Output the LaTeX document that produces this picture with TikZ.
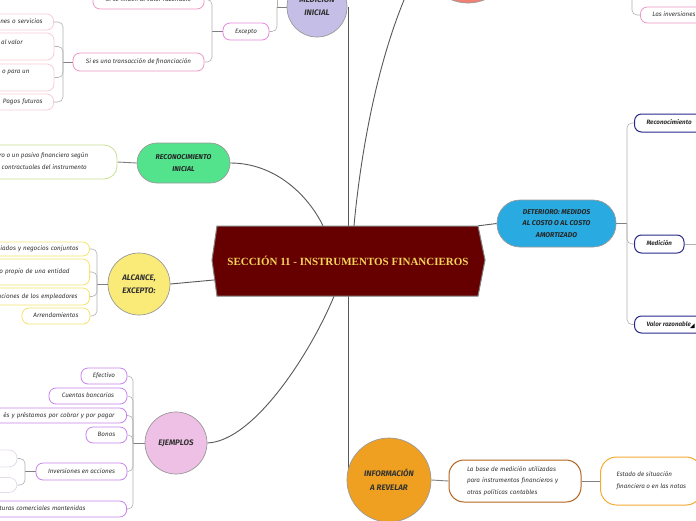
\documentclass[tikz,border=0pt]{standalone}
\usepackage{fontspec}
\setmainfont{Fira Sans}
\newfontfamily\titlefont{Liberation Serif}
\usetikzlibrary{calc,backgrounds}
\definecolor{titlered}{RGB}{102,0,0}
\definecolor{titleyel}{RGB}{245,212,90}
\definecolor{medfill}{RGB}{197,190,230}
\definecolor{grnfill}{RGB}{82,227,140}
\definecolor{yelfill}{RGB}{250,235,120}
\definecolor{pinkfill}{RGB}{239,192,230}
\definecolor{bluefill}{RGB}{41,171,226}
\definecolor{orafill}{RGB}{240,160,32}
\definecolor{salfill}{RGB}{240,128,115}
\definecolor{pinkbd}{RGB}{240,150,195}
\definecolor{lpinkbd}{RGB}{245,205,215}
\definecolor{magbd}{RGB}{232,135,220}
\definecolor{grnbd}{RGB}{200,225,150}
\definecolor{yelbd}{RGB}{245,228,110}
\definecolor{purbd}{RGB}{200,130,240}
\definecolor{faintbd}{RGB}{228,220,236}
\definecolor{navybd}{RGB}{40,40,140}
\definecolor{brownbd}{RGB}{180,100,30}
\definecolor{orabd}{RGB}{245,170,50}
\begin{document}
\begin{tikzpicture}[x=1pt,y=-1pt,
  branch/.style={draw=black!65, line width=0.9pt},
  brk/.style={draw=black!30, line width=0.6pt, rounded corners=5pt},
  stub/.style={draw=black!50, line width=0.9pt},
  bigc/.style={circle, draw=black!40, line width=0.7pt, inner sep=0pt, align=center, text=black!80, font=\bfseries\itshape\fontsize{8}{13}\selectfont},
  pill/.style={rectangle, draw=black!40, line width=0.7pt, align=center, text=black!85, font=\bfseries\itshape\fontsize{7}{11.5}\selectfont},
  leaf/.style={rectangle, rounded corners=7pt, fill=white, line width=0.8pt, text=black!80, font=\itshape\fontsize{6.3}{11}\selectfont, inner ysep=0pt},
  one/.style={text height=4.6pt, text depth=1.4pt},
  lbl/.style={font=\itshape\fontsize{6.3}{11}\selectfont, text=black!80, inner sep=0pt},
  navy/.style={leaf, one, draw=navybd, line width=1pt, anchor=west, inner xsep=12pt, font=\bfseries\itshape\fontsize{6.3}{11}\selectfont}
]
\useasboundingbox (0,0) rectangle (696,520);

% central title
\filldraw[fill=titlered, draw=black!50, line width=1pt] (217,226) -- (478,226) -- (485,260) -- (478,296) -- (217,296) -- (212,260) -- cycle;
\node[font=\titlefont\bfseries\fontsize{11}{13}\selectfont, text=titleyel, minimum width=273pt, minimum height=70pt, inner sep=0pt] (title) at (348,261) {SECCIÓN 11 - INSTRUMENTOS FINANCIEROS};

% main topics
\node[bigc, fill=medfill, minimum size=60pt] (med) at (317,7) {};
\node[bigc, draw=none, fill=none] (medt) at (317,5.5) {MEDICIÓN\\INICIAL};
\node[bigc, fill=salfill, minimum size=88pt] (salm) at (468,-41) {};
\node[pill, fill=grnfill, rounded corners=20pt, minimum width=93pt, minimum height=40pt] (rec) at (183.5,163) {RECONOCIMIENTO\\INICIAL};
\node[bigc, fill=yelfill, minimum size=62pt] (alc) at (139,284) {ALCANCE,\\EXCEPTO:};
\node[bigc, fill=pinkfill, minimum size=62pt] (ejem) at (176,443) {EJEMPLOS};
\node[pill, fill=bluefill, rounded corners=23pt, minimum width=119pt, minimum height=47pt] (det) at (556.5,223.5) {DETERIORO: MEDIDOS\\AL COSTO O AL COSTO\\AMORTIZADO};
\node[bigc, fill=orafill, minimum size=84pt, font=\bfseries\itshape\fontsize{8}{14}\selectfont] (info) at (389,480) {INFORMACIÓN\\A REVELAR};

% medicion inicial branch
\node[leaf, one, draw=magbd, minimum width=46pt, minimum height=17pt] (exc) at (246,31.5) {Excepto};
\node[leaf, one, draw=pinkbd, minimum width=111pt, minimum height=19pt] (sim) at (148.5,-0.5) {Si se miden al valor razonable};
\node[leaf, one, draw=pinkbd, minimum width=131pt, minimum height=18pt] (fin) at (138.5,62) {Si es una transacción de financiación};
\node[leaf, one, draw=lpinkbd, anchor=east, text width=80pt, align=right, inner xsep=11pt, minimum height=16pt] (c1) at (54,22) {nes o servicios};
\node[leaf, draw=lpinkbd, minimum width=100pt, minimum height=27pt] (c2) at (4,46.5) {};
\node[lbl, anchor=west] (c2t) at (1,42) {al valor};
\node[leaf, draw=lpinkbd, minimum width=100pt, minimum height=27pt] (c3) at (4,77.5) {};
\node[lbl, anchor=west] (c3t) at (2,72) {o para un};
\node[leaf, one, draw=lpinkbd, anchor=east, text width=80pt, align=right, inner xsep=11pt, minimum height=16pt] (c4) at (54,102) {Pagos futuros};

% reconocimiento inicial child
\node[leaf, draw=grnbd, rounded corners=13pt, minimum width=160pt, minimum height=34pt] (rc) at (37,162) {};
\node[lbl, anchor=west] (rct1) at (-1,156) {ro o un pasivo financiero según};
\node[lbl, anchor=west] (rct2) at (1.5,167) {contractuales del instrumento};

% alcance children
\node[leaf, one, draw=yelbd, anchor=east, text width=150pt, align=right, inner xsep=11pt, minimum height=14pt] (a1) at (90,249) {ciados y negocios conjuntos};
\node[leaf, one, draw=yelbd, anchor=east, text width=150pt, align=right, inner xsep=20pt, minimum height=26pt] (a2) at (90,272) {o propio de una entidad};
\node[leaf, one, draw=yelbd, anchor=east, text width=150pt, align=right, inner xsep=12pt, minimum height=17pt] (a3) at (90,296.5) {aciones de los empleadores};
\node[leaf, one, draw=yelbd, minimum width=68pt, minimum height=16pt] (a4) at (56,316) {Arrendamientos};

% ejemplos children
\node[leaf, one, draw=purbd, minimum width=46pt, minimum height=16pt] (e1) at (104,376) {Efectivo};
\node[leaf, one, draw=purbd, minimum width=78pt, minimum height=16pt] (e2) at (88,396) {Cuentas bancarias};
\node[leaf, one, draw=purbd, anchor=east, text width=170pt, align=right, inner xsep=12pt, minimum height=15pt] (e3) at (127,415.5) {és y préstamos por cobrar y por pagar};
\node[leaf, one, draw=purbd, minimum width=41pt, minimum height=16pt] (e4) at (106.5,435) {Bonos};
\node[leaf, one, draw=purbd, minimum width=91pt, minimum height=17pt] (e5) at (81.5,471.5) {Inversiones en acciones};
\node[leaf, one, draw=purbd, anchor=east, text width=150pt, align=right, inner xsep=41pt, minimum height=16pt] (e6) at (127,509) {turas comerciales mantenidas};
\node[leaf, draw=faintbd, rounded corners=8pt, minimum width=78pt, minimum height=17pt] (f1) at (-22,458.5) {};
\node[leaf, draw=faintbd, rounded corners=8pt, minimum width=78pt, minimum height=15pt] (f2) at (-22,485) {};

% deterioro children
\node[navy, minimum height=18pt] (drec) at (634,123) {Reconocimiento};
\node[navy, minimum height=18pt] (dmed) at (634,244) {Medición};
\node[navy, minimum height=17pt] (dvr) at (634,324.5) {Valor razonable\hspace{6pt}};
\fill[black] (690,328) -- (694.5,328) -- (694.5,323.5) -- cycle;
\coordinate (medout) at (705,244);

% informacion a revelar children
\node[leaf, draw=brownbd, line width=1pt, rounded corners=15pt, text width=96pt, inner xsep=18pt, align=left, minimum height=42pt, font=\itshape\fontsize{6.3}{11.5}\selectfont] (ib) at (515,481) {La base de medición utilizadas\\para instrumentos financieros y\\otras políticas contables};
\node[leaf, draw=orabd, line width=1pt, rounded corners=16pt, anchor=west, inner xsep=16pt, align=left, minimum height=48pt, font=\itshape\fontsize{6.3}{12}\selectfont] (ie) at (600,481) {Estado de situación\\financiera o en las notas};

% top right
\node[leaf, one, draw=pinkbd, anchor=west, inner xsep=12pt, minimum height=16pt] (linv) at (640,15) {Las inversiones};
\coordinate (invup) at (632,-20);
\coordinate (medup) at (277,-20);

\begin{pgfonlayer}{background}
\fill[white] (0,0) rectangle (696,520);
% main branches
\draw[branch] (title.north) -- (title.north |- med.east);
\draw[branch] (title.south) -- (title.south |- info.west);
\draw[branch] ($(title.north)+(6,0)$) .. controls (360,160) and (378,40) .. (salm.west);
\draw[branch] (rec.east) .. controls (275,163) and (308,195) .. ($(title.north)+(-25,0)$);
\draw[branch] (alc.east) -- ($(title.west)+(2.5,19)$);
\draw[branch] (ejem.east) .. controls (255,441) and (312,350) .. ($(title.south)+(-14,0)$);
\draw[branch] ($(title.north east)+(-6.5,0)$) -- (det.west);
% medicion inicial
\draw[stub] (med.west) -- (277,7);
\draw[brk] (medup) -- (277,7);
\draw[brk] (277,7) |- (exc.east);
\draw[stub] (exc.west) -- (212,31.5);
\draw[brk] (212,31.5) |- (sim.east);
\draw[brk] (212,31.5) |- (fin.east);
\draw[stub] (fin.west) -- (63,62);
\foreach \n in {c1,c2,c3,c4} \draw[brk] (63,62) |- (\n.east);
% reconocimiento
\draw[stub] (rec.west) -- (rc.east);
% alcance
\draw[stub] (alc.west) -- (97,284);
\foreach \n in {a1,a2,a3,a4} \draw[brk] (97,284) |- (\n.east);
% ejemplos
\draw[stub] (ejem.west) -- (133,443);
\foreach \n in {e1,e2,e3,e4,e5,e6} \draw[brk] (133,443) |- (\n.east);
\draw[stub] (e5.west) -- (25,471.5);
\foreach \n in {f1,f2} \draw[brk] (25,471.5) |- (\n.east);
% deterioro
\draw[stub] (det.east) -- (627,223.5);
\foreach \n in {drec,dmed,dvr} \draw[brk] (627,223.5) |- (\n.west);
\draw[brk] (dmed.east) -- (medout);
% informacion
\draw[stub] (info.east) -- (ib.west);
\draw[stub] (ib.east) -- (ie.west);
% top right
\draw[brk] (invup) |- (linv.west);
\end{pgfonlayer}
\end{tikzpicture}
\end{document}
